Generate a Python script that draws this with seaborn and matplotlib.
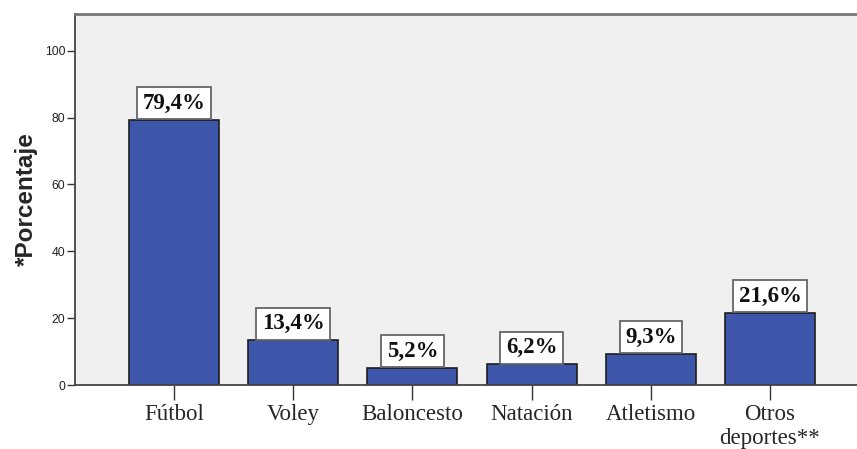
import matplotlib
matplotlib.use("Agg")
import matplotlib.pyplot as plt
import seaborn as sns
import pandas as pd

categorias = ["Fútbol", "Voley", "Baloncesto", "Natación", "Atletismo", "Otros\ndeportes**"]
porcentajes = [79.4, 13.4, 5.2, 6.2, 9.3, 21.6]
etiquetas = ["79,4%", "13,4%", "5,2%", "6,2%", "9,3%", "21,6%"]
ticks_y = [0, 20, 40, 60, 80, 100]

df = pd.DataFrame({"deporte": categorias, "porcentaje": porcentajes})

sns.set_style("white")
fig = plt.figure(figsize=(8.57, 4.49), dpi=100)
ax = fig.add_axes([75 / 857, 64 / 449, 1 - 75 / 857, (385 - 14) / 449])
ax.set_facecolor("#F0F0F0")

sns.barplot(data=df, x="deporte", y="porcentaje", color="#3D56A9",
            saturation=1, width=0.755, edgecolor="#1E1E1E", linewidth=1.2,
            ax=ax, errorbar=None)

ax.set_xlim(-0.83, 5.73)
ax.set_ylim(0, 111)
ax.set_yticks(ticks_y)
ax.set_yticklabels([str(t) for t in ticks_y], family="Liberation Sans",
                   fontsize=8.8, color="#222222")
ax.set_xticks(range(len(categorias)))
ax.set_xticklabels(categorias, family="Liberation Serif", fontsize=16.5,
                   linespacing=1.15)
ax.tick_params(axis="y", direction="out", length=6, width=1, color="#333333", pad=1, left=True)
ax.tick_params(axis="x", direction="out", length=11, width=1, color="#333333", pad=3, bottom=True)

ax.set_xlabel("")
ax.set_ylabel("*Porcentaje", family="Liberation Sans", fontweight="bold",
              fontsize=17.5, labelpad=5)

for side in ["left", "top", "bottom"]:
    ax.spines[side].set_visible(True)
    ax.spines[side].set_color("#444444")
    ax.spines[side].set_linewidth(1.3)
ax.spines["right"].set_visible(False)
ax.spines["top"].set_color("#777777")
ax.spines["top"].set_linewidth(2)

for i, (v, txt) in enumerate(zip(porcentajes, etiquetas)):
    ax.annotate(txt, xy=(i, v), xytext=(0, 4.3), textcoords="offset points",
                ha="center", va="bottom", family="Liberation Serif",
                fontweight="bold", fontsize=16.5, color="#111111",
                bbox=dict(boxstyle="square,pad=0.24", facecolor="white",
                          edgecolor="#666666", linewidth=1.3))

fig.savefig("out.png", dpi=100)
